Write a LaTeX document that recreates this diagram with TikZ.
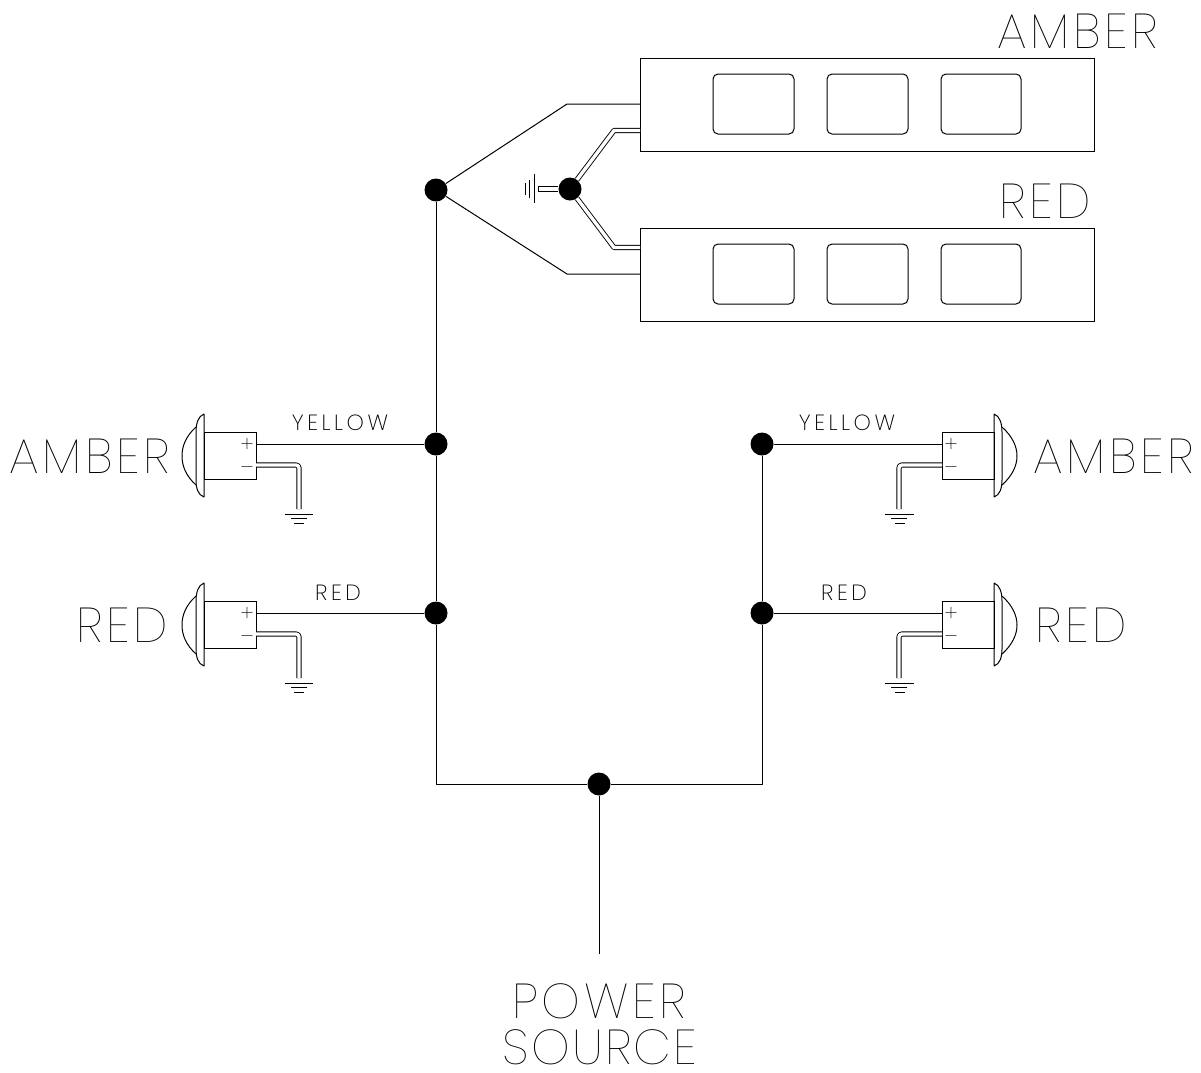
\documentclass[tikz,border=0pt]{standalone}
\usepackage{fontspec}
\newfontfamily\cadfont[LetterSpace=7.5]{Poppins Thin}
\newfontfamily\cadtight[LetterSpace=4.4]{Poppins Thin}
\newfontfamily\cadsmall[LetterSpace=16]{Poppins ExtraLight}
\tikzset{
  wire/.style={line width=1pt,line join=round},
  twin/.style={double,double distance=3.4pt,line width=0.9pt,line join=round},
  dot/.style={circle,fill=black,inner sep=0pt,minimum size=23pt},
  panel/.style={draw,line width=1pt},
  lamp/.style={draw,line width=1pt,rounded corners=5pt},
  biglabel/.style={inner sep=0pt,font=\fontsize{49}{49}\cadfont},
  tightlabel/.style={inner sep=0pt,font=\fontsize{49}{49}\cadtight},
  smalllabel/.style={inner sep=0pt,font=\fontsize{22}{22}\cadsmall},
  pole/.style={inner sep=0pt,font=\fontsize{18}{18}\selectfont}
}
\begin{document}
\begin{tikzpicture}[x=1pt,y=-1pt]
\useasboundingbox (0,0) rectangle (1201,1072);

%%% Junctions
\node[dot] (top) at (436,190) {};
\node[dot] (gnd) at (570,189) {};
\node[dot] (yl) at (436,444) {};
\node[dot] (rl) at (436,613) {};
\node[dot] (yr) at (762,444) {};
\node[dot] (rr) at (762,613) {};
\node[dot] (src) at (599,784) {};

%%% Amber and red bars
\draw[panel] (640,58) rectangle (1094,151);
\draw[panel] (640,228) rectangle (1094,321);
\draw[lamp] (713,74) rectangle (794,134);
\draw[lamp] (827,74) rectangle (908,134);
\draw[lamp] (941,74) rectangle (1021,134);
\draw[lamp] (713,244) rectangle (794,304);
\draw[lamp] (827,244) rectangle (908,304);
\draw[lamp] (941,244) rectangle (1021,304);
\node[biglabel] (ambertop) at (1078,31) {AMBER};
\node[biglabel] (redtop) at (1045,201) {RED};

%%% Bar wiring
\coordinate (am) at (640,104);
\coordinate (re) at (640,274);
\coordinate (amg) at (640,130.5);
\coordinate (reg) at (640,247.5);
\coordinate (gs) at (538,189);
\draw[wire] (top) -- (567,104) -- (am);
\draw[wire] (top) -- (567,274) -- (re);
\draw[twin] (gnd) -- (614,130.5) -- (amg);
\draw[twin] (gnd) -- (614,247.5) -- (reg);
\draw[twin] (gnd) -- (gs);
\draw[wire] (538,187) -- (538,191);
\draw[wire] (534,174) -- (534,203);
\draw[wire] (529,180) -- (529,198);
\draw[wire] (525,183) -- (525,195);

%%% Main bus
\coordinate (bl) at (436,784);
\coordinate (br) at (762,784);
\coordinate (psu) at (599,954);
\draw[wire] (top) -- (yl);
\draw[wire] (yl) -- (rl);
\draw[wire] (rl) -- (bl) -- (src);
\draw[wire] (src) -- (br) -- (rr);
\draw[wire] (rr) -- (yr);
\draw[wire] (src) -- (psu);
\node[biglabel] (power) at (599,1001) {POWER};
\node[tightlabel] (source) at (600,1047) {SOURCE};

%%% Left amber lamp
\draw[panel] (204,432) rectangle (256,479);
\draw[wire] (204,414) .. controls (198,416) and (196,424) .. (196,432) -- (196,480) .. controls (196,488) and (198,495) .. (204,497) -- cycle;
\draw[wire] (196,427) .. controls (186,436) and (182,446) .. (182,456) .. controls (182,466) and (186,476) .. (196,485);
\coordinate (lap) at (256,444);
\coordinate (lam) at (256,465);
\coordinate (lag) at (299,509);
\draw[wire] (yl) -- (lap);
\draw[twin,rounded corners=3pt] (lam) -- (299,465) -- (lag);
\draw[wire] (285,514) -- (313,514);
\draw[wire] (291,518) -- (307,518);
\draw[wire] (294,523) -- (304,523);
\node[pole] (lapl) at (247,444) {+};
\node[pole] (lami) at (247,469) {\textminus};
\node[biglabel] (amberl) at (90,456) {AMBER};
\node[smalllabel] (yellowl) at (340,423) {YELLOW};

%%% Left red lamp
\draw[panel] (204,601) rectangle (256,648);
\draw[wire] (204,583) .. controls (198,585) and (196,593) .. (196,601) -- (196,649) .. controls (196,657) and (198,664) .. (204,666) -- cycle;
\draw[wire] (196,596) .. controls (186,605) and (182,615) .. (182,625) .. controls (182,635) and (186,645) .. (196,654);
\coordinate (lrp) at (256,613);
\coordinate (lrm) at (256,634);
\coordinate (lrg) at (299,678);
\draw[wire] (rl) -- (lrp);
\draw[twin,rounded corners=3pt] (lrm) -- (299,634) -- (lrg);
\draw[wire] (285,683) -- (313,683);
\draw[wire] (291,687) -- (307,687);
\draw[wire] (294,692) -- (304,692);
\node[pole] (lrpl) at (247,613) {+};
\node[pole] (lrmi) at (247,638) {\textminus};
\node[biglabel] (redl) at (122,625) {RED};
\node[smalllabel] (redwl) at (338,593) {RED};

%%% Right amber lamp
\draw[panel] (942,432) rectangle (994,479);
\draw[wire] (994,414) .. controls (1000,416) and (1002,424) .. (1002,432) -- (1002,480) .. controls (1002,488) and (1000,495) .. (994,497) -- cycle;
\draw[wire] (1002,427) .. controls (1012,436) and (1017,446) .. (1017,456) .. controls (1017,466) and (1012,476) .. (1002,485);
\coordinate (rap) at (942,444);
\coordinate (ram) at (942,465);
\coordinate (rag) at (899,509);
\draw[wire] (yr) -- (rap);
\draw[twin,rounded corners=3pt] (ram) -- (899,465) -- (rag);
\draw[wire] (885,514) -- (914,514);
\draw[wire] (891,518) -- (907,518);
\draw[wire] (895,523) -- (905,523);
\node[pole] (rapl) at (951,444) {+};
\node[pole] (rami) at (951,469) {\textminus};
\node[biglabel] (amberr) at (1114,456) {AMBER};
\node[smalllabel] (yellowr) at (847,423) {YELLOW};

%%% Right red lamp
\draw[panel] (942,601) rectangle (994,648);
\draw[wire] (994,583) .. controls (1000,585) and (1002,593) .. (1002,601) -- (1002,649) .. controls (1002,657) and (1000,664) .. (994,666) -- cycle;
\draw[wire] (1002,596) .. controls (1012,605) and (1017,615) .. (1017,625) .. controls (1017,635) and (1012,645) .. (1002,654);
\coordinate (rrp) at (942,613);
\coordinate (rrm) at (942,634);
\coordinate (rrg) at (899,678);
\draw[wire] (rr) -- (rrp);
\draw[twin,rounded corners=3pt] (rrm) -- (899,634) -- (rrg);
\draw[wire] (885,683) -- (914,683);
\draw[wire] (891,687) -- (907,687);
\draw[wire] (895,692) -- (905,692);
\node[pole] (rrpl) at (951,613) {+};
\node[pole] (rrmi) at (951,638) {\textminus};
\node[biglabel] (redr) at (1081,625) {RED};
\node[smalllabel] (redwr) at (844,593) {RED};
\end{tikzpicture}
\end{document}
